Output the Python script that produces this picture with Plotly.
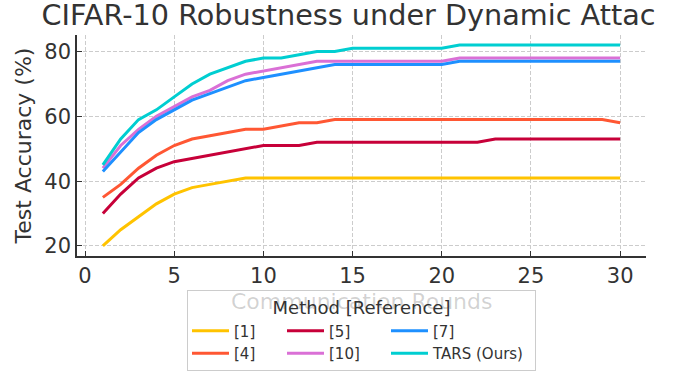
import plotly.graph_objects as go

rounds = list(range(1, 31))

acc_ref1 = [20, 25, 29, 33, 36, 38, 39, 40, 41] + [41] * 21
acc_ref4 = [35, 39, 44, 48, 51, 53, 54, 55, 56, 56, 57, 58, 58] + [59] * 16 + [58]
acc_ref5 = [30, 36, 41, 44, 46, 47, 48, 49, 50, 51, 51, 51] + [52] * 10 + [53] * 8
acc_ref10 = [44, 51, 56, 60, 63, 66, 68, 71, 73, 74, 75, 76] + [77] * 8 + [78] * 10
acc_ref7 = [43, 49, 55, 59, 62, 65, 67, 69, 71, 72, 73, 74, 75] + [76] * 7 + [77] * 10
acc_tars = [45, 53, 59, 62, 66, 70, 73, 75, 77, 78, 78, 79, 80, 80] + [81] * 6 + [82] * 10

series_names = ["[1]", "[4]", "[5]", "[10]", "[7]", "TARS (Ours)"]
series_values = [acc_ref1, acc_ref4, acc_ref5, acc_ref10, acc_ref7, acc_tars]
series_colors = ["#FFC300", "#FF5733", "#C70039", "#DA70D6", "#1E90FF", "#00CED1"]
legend_groups = ["g1", "g1", "g2", "g2", "g3", "g3"]
legend_widths = [43, 43, 52, 52, 97, 97]

x_ticks = [0, 5, 10, 15, 20, 25, 30]
y_ticks = [20, 40, 60, 80]
x_label = "Communication Rounds"
y_label = "Test Accuracy (%)"

FONT = "DejaVu Sans"
fig = go.Figure()
for name, vals, col, grp, lw in zip(series_names, series_values, series_colors,
                                    legend_groups, legend_widths):
    fig.add_trace(go.Scatter(
        x=rounds, y=vals, mode="lines", name=name,
        line=dict(color=col, width=3),
        legendgroup=grp, legendwidth=lw,
    ))

axis_common = dict(
    showline=True, linecolor="#333333", linewidth=1.5, mirror=False,
    ticks="inside", ticklen=5, tickwidth=1.2, tickcolor="#333333",
    showgrid=True, gridcolor="#cccccc", gridwidth=1, griddash="4px,2px",
    zeroline=False, automargin=True,
    tickfont=dict(family=FONT, size=21, color="#333333"),
)

fig.update_layout(
    width=697, height=371,
    margin=dict(l=77, r=51, t=35, b=115, autoexpand=False),
    paper_bgcolor="white", plot_bgcolor="white",
    font=dict(family=FONT, color="#333333"),
    title=dict(
        text="CIFAR-10 Robustness under Dynamic Attac",
        font=dict(family=FONT, size=28.7, color="#333333"),
        x=0.5, xref="container", xanchor="center",
        y=1 - 14.5 / 371, yref="container", yanchor="middle",
    ),
    xaxis=dict(range=[-0.45, 31.45], tickvals=x_ticks, **axis_common),
    yaxis=dict(
        range=[16.9, 85.1], tickvals=y_ticks, ticklabelstandoff=0,
        title=dict(text=y_label, standoff=7,
                   font=dict(family=FONT, size=22, color="#333333")),
        **axis_common,
    ),
    legend=dict(
        orientation="h", traceorder="grouped",
        x=0.5, xanchor="center", y=1 - 290 / 371, yref="container", yanchor="top",
        bgcolor="rgba(255,255,255,0.8)", bordercolor="#cccccc", borderwidth=1,
        font=dict(family=FONT, size=15, color="#333333"),
        title=dict(text="Method [Reference]", side="top center",
                   font=dict(family=FONT, size=18, color="#333333")),
        itemwidth=37,
    ),
    annotations=[dict(
        text=x_label, showarrow=False,
        xref="paper", yref="paper", x=0.5, y=-0.208,
        xanchor="center", yanchor="middle",
        font=dict(family=FONT, size=22, color="rgba(51,51,51,0.22)"),
    )],
)

fig.write_html("out.html", config={"displayModeBar": False},
               post_script="document.body.style.margin='0px';")
